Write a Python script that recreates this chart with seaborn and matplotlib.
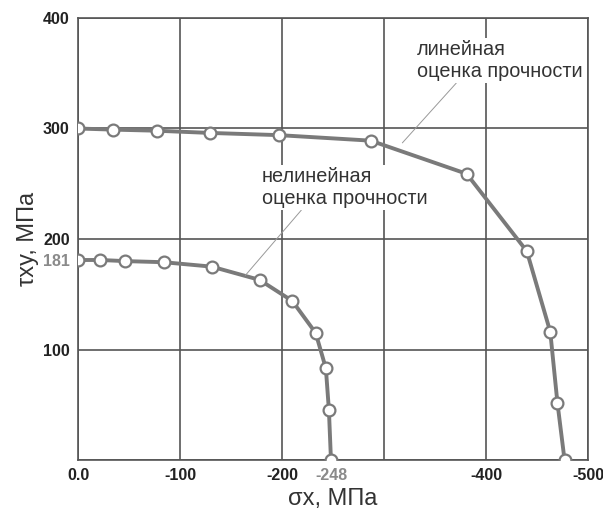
import matplotlib
matplotlib.use("Agg")
import matplotlib.pyplot as plt
import seaborn as sns
import pandas as pd
import numpy as np

# data
linear_sx = [0, -34, -77, -129, -197, -287, -381, -440, -463, -470, -477]
linear_txy = [300, 299, 298, 296, 294, 289, 259, 189, 116, 52, 0]
nonlinear_sx = [0, -22, -46, -84, -131, -178, -210, -233, -243, -246, -248]
nonlinear_txy = [181, 181, 180, 179, 175, 163, 144, 115, 83, 45, 0]

x_major = [0, -100, -200, -300, -400, -500]
x_major_labels = ["0.0", "-100", "-200", "", "-400", "-500"]
y_major = [0, 100, 200, 300, 400]
y_major_labels = ["", "100", "200", "300", "400"]

label_linear = "линейная\nоценка прочности"
label_nonlinear = "нелинейная\nоценка прочности"

df = pd.concat([
    pd.DataFrame({"sx": linear_sx, "txy": linear_txy, "s": "lin"}),
    pd.DataFrame({"sx": nonlinear_sx, "txy": nonlinear_txy, "s": "nonlin"}),
])

sns.set_style("white")
plt.rcParams["font.family"] = ["Liberation Sans", "DejaVu Sans"]

fig = plt.figure(figsize=(6.03, 5.09), dpi=100)
ax = fig.add_axes([78/603, 1-460/509, (588-78)/603, (460-18)/509])

grid_c = "#555555"
curve_c = "#7a7a7a"

sns.lineplot(data=df, x="sx", y="txy", units="s", estimator=None, sort=False,
             color=curve_c, lw=2.8, marker="o", markersize=8.5,
             markerfacecolor="white", markeredgecolor=curve_c,
             markeredgewidth=1.6, ax=ax, zorder=5)

ax.set_xlim(0, -500)
ax.set_ylim(0, 400)
ax.set_xticks(x_major)
ax.set_xticklabels(x_major_labels)
ax.set_yticks(y_major)
ax.set_yticklabels(y_major_labels)
ax.set_xticks([nonlinear_sx[-1]], minor=True)
ax.set_xticklabels([str(nonlinear_sx[-1])], minor=True)
ax.set_yticks([nonlinear_txy[0]], minor=True)
ax.set_yticklabels([str(nonlinear_txy[0])], minor=True)

ax.grid(True, which="major", color=grid_c, lw=1.2)
ax.tick_params(which="both", length=0, pad=6)
for lab in ax.get_xticklabels() + ax.get_yticklabels():
    lab.set_fontweight("bold")
    lab.set_fontsize(11.5)
    lab.set_color("#222222")
for lab in ax.get_xticklabels(minor=True) + ax.get_yticklabels(minor=True):
    lab.set_fontweight("bold")
    lab.set_fontsize(11.5)
    lab.set_color("#8a8a8a")

for sp in ax.spines.values():
    sp.set_color(grid_c)
    sp.set_linewidth(1.2)

ax.set_xlabel("σx, МПа", fontsize=17, color="#333333", labelpad=3)
ax.set_ylabel("τxy, МПа", fontsize=17, color="#333333", labelpad=3)

ax.annotate(label_linear, xy=(-318, 287), xytext=(-332, 380),
            fontsize=14.3, color="#333333", ha="left", va="top",
            bbox=dict(boxstyle="square,pad=0.1", fc="white", ec="none"),
            arrowprops=dict(arrowstyle="-", color="#999999", lw=0.7,
                            shrinkA=0, shrinkB=0, relpos=(0.25, 0.0)),
            zorder=6)
ax.annotate(label_nonlinear, xy=(-164, 167), xytext=(-180, 265),
            fontsize=14.3, color="#333333", ha="left", va="top",
            bbox=dict(boxstyle="square,pad=0.1", fc="white", ec="none"),
            arrowprops=dict(arrowstyle="-", color="#999999", lw=0.7,
                            shrinkA=0, shrinkB=0, relpos=(0.25, 0.0)),
            zorder=6)

legend = ax.get_legend()
if legend is not None:
    legend.remove()

fig.savefig("out.png", dpi=100)
